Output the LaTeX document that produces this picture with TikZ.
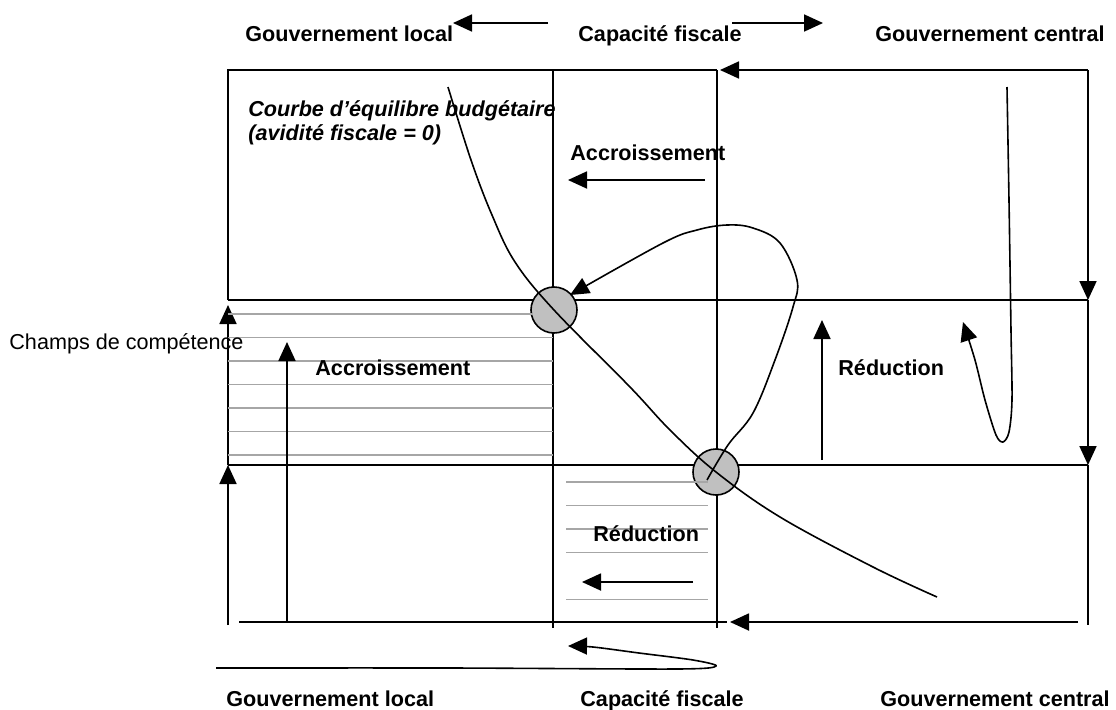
\documentclass[tikz,border=0pt]{standalone}
\usepackage{fontspec}
\setmainfont{Liberation Sans}
\usetikzlibrary{arrows.meta}
\definecolor{fdInk}{HTML}{000000}
\definecolor{fdHatch}{HTML}{A6A6A6}
\definecolor{fdDisc}{HTML}{C0C0C0}
\tikzset{
  gridline/.style ={draw=fdInk,line width=0.9pt},
  hatchline/.style={draw=fdHatch,line width=0.9pt},
  flow/.style     ={-{Triangle[length=9.5pt,width=8.5pt]},fdInk,line width=0.9pt},
  curveline/.style={fdInk,line width=0.8pt},
  eqdisc/.style   ={circle,draw=fdInk,fill=fdDisc,line width=0.8pt,
                    minimum size=23pt,inner sep=0pt},
  lbl/.style      ={font=\fontsize{10.8pt}{12pt}\selectfont\bfseries,
                    inner sep=0pt,text=fdInk,anchor=base west},
  ilbl/.style     ={lbl,font=\fontsize{10.8pt}{12pt}\selectfont\bfseries\itshape},
  plbl/.style     ={lbl,font=\fontsize{10.8pt}{12pt}\selectfont},
}

\begin{document}
\begin{tikzpicture}[x=0.5pt,y=-0.5pt]
\useasboundingbox (0,0) rectangle (1116,709);

% -- grid -----------------------------------------------------------------
\draw[gridline] (228,300) -- (228,70) -- (717,70);
\draw[gridline] (553,70) -- (553,628);
\draw[gridline] (717,70) -- (717,628);
\draw[gridline] (228,300) -- (1088,300);
\draw[gridline] (228,465) -- (1088,465);
\draw[gridline] (1088,465) -- (1088,625);
\draw[gridline] (239,622) -- (727,622);

% -- arrows on the frame --------------------------------------------------
\draw[flow] (548,23) -- (453,23);
\draw[flow] (732,23) -- (823,23);
\draw[flow] (1088,70) -- (720,70);
\draw[flow] (1088,70) -- (1088,300);
\draw[flow] (1088,300) -- (1088,465);
\draw[flow] (228,625) -- (228,465);
\draw[flow] (228,465) -- (228,305);
\draw[flow] (1078,622) -- (730,622);

% -- equilibrium points ---------------------------------------------------
\node[eqdisc] (eq1) at (554,310) {};
\node[eqdisc] (eq2) at (716,472) {};

% -- hatching -------------------------------------------------------------
\foreach \y/\xe in {314/533,337.5/553,361/553,384.5/553,408/553,431.5/553,455/553}
  \draw[hatchline] (228,\y) -- (\xe,\y);
\foreach \y in {482,505.5,529,552.5,599.5}
  \draw[hatchline] (566,\y) -- (708,\y);

% -- inner arrows ---------------------------------------------------------
\draw[flow] (287,622) -- (287,342);
\draw[flow] (822,460) -- (822,320);
\draw[flow] (705,180) -- (568,180);
\draw[flow] (693,582) -- (582,582);

% -- curves ---------------------------------------------------------------
\draw[curveline] plot[smooth,tension=0.6] coordinates {(448,87) (471,160) (492,215)
  (515,262) (554,310) (630,387) (670,430) (716,472) (780,517) (873,567) (937,597)};
\draw[flow,line width=0.8pt] plot[smooth,tension=0.6] coordinates {(707,480) (728,445)
  (753,413) (775,360) (793,307) (797,280) (780,243) (753,228) (727,225) (697,230)
  (663,243) (570,295)};
\draw[flow,line width=0.8pt] plot[smooth,tension=0.5] coordinates {(1007,87) (1009,200)
  (1011,330) (1012,400) (1009,432) (1003,442) (996,435) (985,400) (975,360) (963,322)};
\draw[flow,line width=0.8pt] plot[smooth,tension=0.5] coordinates {(216,668) (450,668)
  (677,669) (716,666) (693,660) (639,653) (593,647) (568,646)};

% -- labels ---------------------------------------------------------------
\node[lbl] (tl) at (245,41) {Gouvernement local};
\node[lbl] (tc) at (578,41) {Capacité fiscale};
\node[lbl] (tr) at (875,41) {Gouvernement central};
\node[lbl] (bl) at (226,706) {Gouvernement local};
\node[lbl] (bc) at (580,706) {Capacité fiscale};
\node[lbl] (br) at (880,706) {Gouvernement central};
\node[ilbl] (cb1) at (248,116) {Courbe d’équilibre budgétaire};
\node[ilbl] (cb2) at (248,140) {(avidité fiscale = 0)};
\node[lbl] (acc1) at (570,160) {Accroissement};
\node[lbl] (acc2) at (315,375) {Accroissement};
\node[lbl] (red1) at (838,375) {Réduction};
\node[lbl] (red2) at (593,541) {Réduction};
\node[plbl] (champ) at (9,349) {Champs de compétence};
\end{tikzpicture}
\end{document}
